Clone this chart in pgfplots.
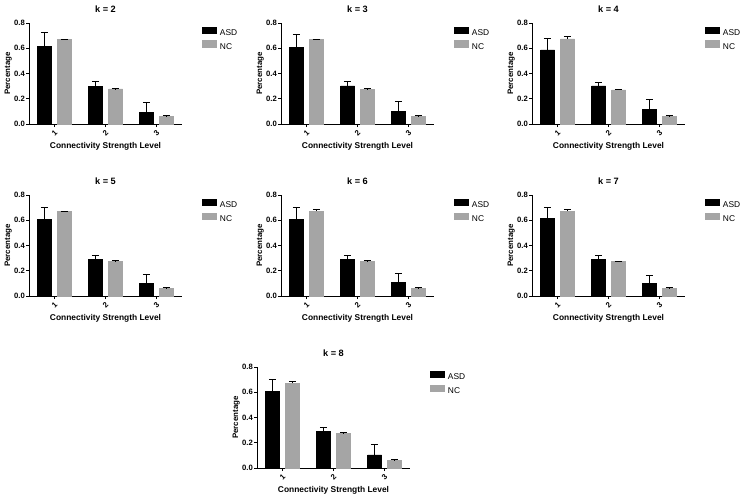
\documentclass[border=0pt]{standalone}
\usepackage{pgfplots}
\pgfplotsset{compat=1.18}
\usepackage{pgfplotstable}
\usepackage{fontspec}
\setmainfont{Liberation Sans}
\definecolor{ncgray}{RGB}{165,165,165}

\pgfplotstableread{
x asd asde nc nce
1 0.615 0.113 0.668 0.004
2 0.297 0.039 0.278 0.003
3 0.095 0.075 0.061 0.003
}\kTwo
\pgfplotstableread{
x asd asde nc nce
1 0.607 0.100 0.668 0.004
2 0.302 0.034 0.275 0.003
3 0.100 0.077 0.061 0.003
}\kThree
\pgfplotstableread{
x asd asde nc nce
1 0.588 0.087 0.675 0.019
2 0.302 0.029 0.270 0.004
3 0.117 0.074 0.058 0.008
}\kFour
\pgfplotstableread{
x asd asde nc nce
1 0.610 0.090 0.668 0.005
2 0.293 0.032 0.277 0.003
3 0.098 0.074 0.063 0.004
}\kFive
\pgfplotstableread{
x asd asde nc nce
1 0.610 0.095 0.673 0.013
2 0.288 0.031 0.275 0.003
3 0.106 0.074 0.061 0.005
}\kSix
\pgfplotstableread{
x asd asde nc nce
1 0.613 0.089 0.673 0.010
2 0.288 0.032 0.272 0.003
3 0.098 0.068 0.061 0.005
}\kSeven
\pgfplotstableread{
x asd asde nc nce
1 0.608 0.093 0.672 0.013
2 0.288 0.032 0.275 0.004
3 0.104 0.083 0.059 0.010
}\kEight

\pgfplotsset{panel/.style={
  scale only axis, width=153pt, height=101pt, anchor=south west,
  xmin=0.5, xmax=3.5, ymin=0, ymax=0.8, enlargelimits=false,
  ybar=6pt, bar width=14pt,
  axis x line*=bottom, axis y line*=left,
  axis line style={line width=0.9pt, black},
  tick align=outside, major tick length=3pt,
  tick style={black, line width=0.9pt},
  xtick={1,2,3}, ytick={0,0.2,0.4,0.6,0.8},
  /pgf/number format/assume math mode=true,
  yticklabel style={/pgf/number format/fixed, /pgf/number format/fixed zerofill,
    /pgf/number format/precision=1, inner sep=1pt},
  ticklabel style={font=\fontsize{7.7}{8}\selectfont\bfseries},
  xticklabel style={anchor=center, yshift=-6pt, rotate=45},
  title style={at={(axis description cs:0.5,1)}, anchor=base, yshift=5pt,
    inner sep=0pt, font=\fontsize{9.2}{10}\selectfont\bfseries},
  xlabel={Connectivity Strength Level},
  xlabel style={at={(axis description cs:0.5,0)}, anchor=base, yshift=-24pt,
    inner sep=0pt, font=\fontsize{8.4}{9}\selectfont\bfseries},
  ylabel={Percentage},
  ylabel style={at={(axis description cs:-0.124,0.5)}, anchor=base,
    inner sep=0pt, font=\fontsize{7.9}{9}\selectfont\bfseries},
  legend image code/.code={\fill[##1, draw=none] (0pt,-0.7pt) rectangle (14.4pt,6.7pt); \path (16.5pt,0pt);},
  legend cell align=left,
  legend style={at={(axis description cs:1.131,0.967)}, anchor=north west,
    draw=none, fill=none, inner sep=0pt, row sep=2.5pt,
    font=\fontsize{8.4}{9}\selectfont,
    nodes={inner sep=1pt, text height=6pt, text depth=1.5pt}},
}}

\newcommand{\panel}[4]{%
\begin{axis}[panel, at={(#1pt,-#2pt)}, title={#3}]
\addplot[fill=black, draw=black,
  error bars/.cd, y dir=plus, y explicit,
  error bar style={black, line width=0.9pt},
  error mark options={rotate=90, black, line width=0.9pt, mark size=3.6pt}]
  table[x=x, y=asd, y error=asde] {#4};
\addlegendentry{ASD}
\addplot[fill=ncgray, draw=ncgray,
  error bars/.cd, y dir=plus, y explicit,
  error bar style={black, line width=0.9pt},
  error mark options={rotate=90, black, line width=0.9pt, mark size=3.6pt}]
  table[x=x, y=nc, y error=nce] {#4};
\addlegendentry{NC}
\end{axis}}

\begin{document}
\begin{tikzpicture}
\path[use as bounding box] (0pt,0pt) rectangle (743pt,-499pt);
\panel{29}{124}{k = 2}{\kTwo}
\panel{281}{124}{k = 3}{\kThree}
\panel{532}{124}{k = 4}{\kFour}
\panel{29}{296}{k = 5}{\kFive}
\panel{281}{296}{k = 6}{\kSix}
\panel{532}{296}{k = 7}{\kSeven}
\panel{257}{468}{k = 8}{\kEight}
\end{tikzpicture}
\end{document}
